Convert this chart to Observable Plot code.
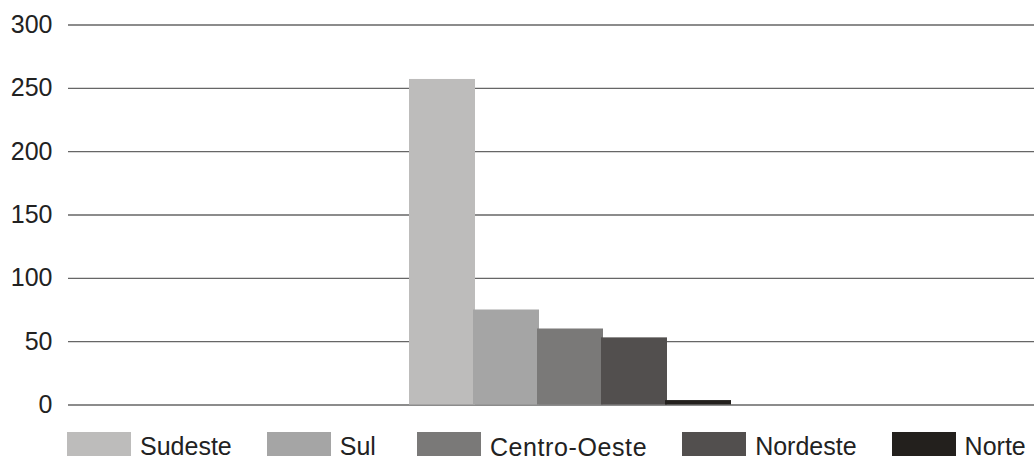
<!DOCTYPE html>
<html>
<head>
<meta charset="utf-8">
<script src="https://cdn.jsdelivr.net/npm/d3@7"></script>
<script src="https://cdn.jsdelivr.net/npm/@observablehq/plot@0.6"></script>
<style>
  html, body { margin: 0; padding: 0; background: #fff; }
  body { width: 1034px; height: 459px; overflow: hidden; font-family: "Liberation Sans", Arial, sans-serif; color: #222; }
  #chart svg { display: block; }
  #legend { display: flex; align-items: flex-start; white-space: nowrap; margin-top: 12px; padding-left: 67px; font-size: 25px; line-height: 24px; height: 27px; }
  .item { display: flex; align-items: flex-start; margin-right: 35px; flex: none; }
  .item:nth-child(2) { margin-right: 41px; }
  .item:nth-child(3) span { letter-spacing: 0.6px; top: 3px; }
  .item:nth-child(4) { margin-right: 35px; }
  .sw { width: 64px; height: 24px; margin-right: 9px; flex: none; }
  .item span { position: relative; top: 2px; }
</style>
</head>
<body>
<div id="chart"></div>
<div id="legend"></div>
<script>
const regions = ["Sudeste", "Sul", "Centro-Oeste", "Nordeste", "Norte"];
const values = [257, 75, 60, 53, 3.5];
const colors = ["#bdbcbb", "#a5a5a5", "#7a7978", "#524f4e", "#23201d"];
const yTicks = [0, 50, 100, 150, 200, 250, 300];

const data = regions.map((r, i) => ({region: r, value: values[i]}));

const chart = Plot.plot({
  width: 1034,
  height: 420,
  marginTop: 24.5,
  marginBottom: 15.5,
  marginLeft: 68,
  marginRight: 0,
  style: {fontFamily: "'Liberation Sans', Arial, sans-serif", fontSize: "25px", color: "#222", background: "#fff"},
  x: {domain: regions, padding: 0, insetLeft: 340, insetRight: 302, axis: null},
  y: {domain: [0, 300], ticks: yTicks, tickSize: 0, tickPadding: 16, label: null},
  color: {domain: regions, range: colors},
  marks: [
    Plot.ruleY(yTicks, {stroke: "#666", strokeWidth: 1.4, strokeOpacity: 1}),
    Plot.barY(data, {x: "region", y: "value", fill: "region", insetLeft: -1, insetRight: -1}),
    Plot.axisY({ticks: yTicks, tickSize: 0, tickPadding: 16, label: null, fill: "#222"})
  ]
});
document.getElementById("chart").appendChild(chart);

const legend = document.getElementById("legend");
regions.forEach((r, i) => {
  const item = document.createElement("div");
  item.className = "item";
  const sw = document.createElement("div");
  sw.className = "sw";
  sw.style.background = colors[i];
  const t = document.createElement("span");
  t.textContent = r;
  item.appendChild(sw);
  item.appendChild(t);
  legend.appendChild(item);
});
</script>
</body>
</html>
